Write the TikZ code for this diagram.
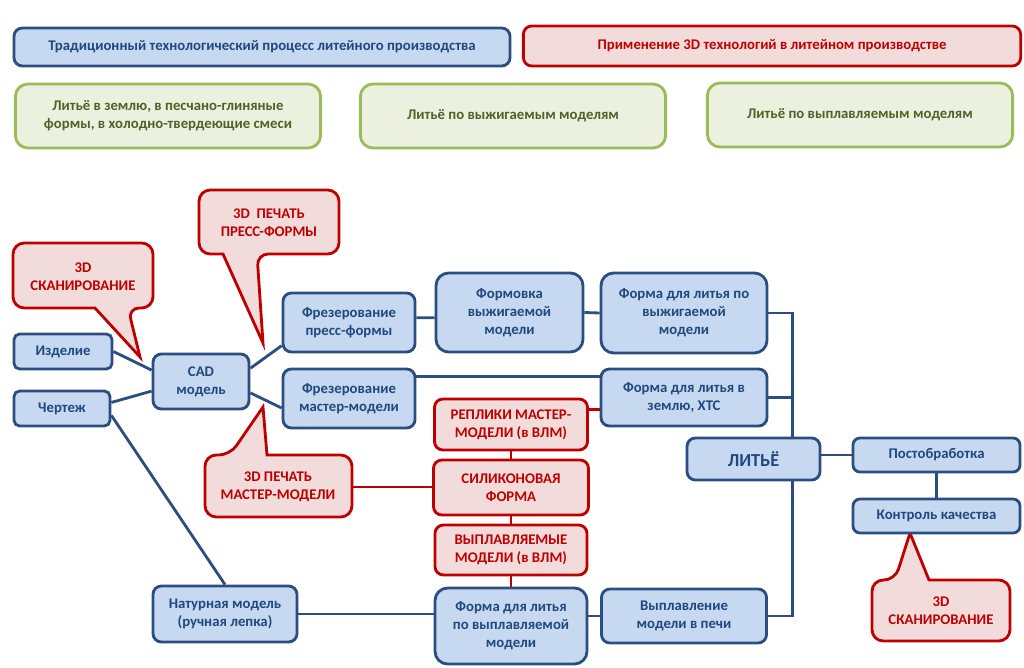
\documentclass[tikz,border=0pt]{standalone}
\usepackage{fontspec}
\setmainfont{Carlito}

\definecolor{bluefill}{HTML}{C6D9F1}
\definecolor{blueline}{HTML}{2C4D7F}
\definecolor{bluetext}{HTML}{1F497D}
\definecolor{redfill}{HTML}{F2DCDB}
\definecolor{redline}{HTML}{C00000}
\definecolor{greenfill}{HTML}{EBF1DE}
\definecolor{greenline}{HTML}{9BBB59}
\definecolor{greentext}{HTML}{4F6228}

\tikzset{
  blk/.style={draw=blueline, fill=bluefill, text=bluetext, line width=2pt,
    rounded corners=6pt, align=center, inner sep=2pt,
    font=\bfseries\fontsize{10.5}{12.8}\selectfont},
  rblk/.style={blk, draw=redline, fill=redfill, text=redline},
  gblk/.style={blk, draw=greenline, fill=greenfill, text=greentext, rounded corners=9pt},
  callout/.style={draw=redline, fill=redfill, line width=2pt, rounded corners=8pt},
  cln/.style={text=redline, align=center, inner sep=0pt,
    font=\bfseries\fontsize{10.5}{12.8}\selectfont},
  link/.style={draw=blueline, line width=2pt},
  rlink/.style={draw=redline, line width=2pt},
}

\begin{document}
\begin{tikzpicture}[x=0.025cm,y=-0.025cm]
	\useasboundingbox (0,0) rectangle (1024,668);

	% legend
	\node[blk, minimum width=12.4cm, minimum height=0.95cm] (trad) at (262,47)
	{Традиционный технологический процесс литейного производства};
	\node[rblk, minimum width=12.43cm, minimum height=1cm] (tech3d) at (772,46)
	{Применение 3D технологий в литейном производстве};
	\node[gblk, minimum width=7.63cm, minimum height=1.6cm] (gsand) at (168,116)
	{Литьё в землю, в песчано-глиняные\\формы, в холодно-твердеющие смеси};
	\node[gblk, minimum width=7.63cm, minimum height=1.6cm] (gburn) at (513,116)
	{Литьё по выжигаемым моделям};
	\node[gblk, minimum width=7.63cm, minimum height=1.6cm] (gmelt) at (860,115)
	{Литьё по выплавляемым моделям};

	% callouts
	\coordinate (tipscanA) at (140,357);
	\filldraw[callout] (13,275) -- (13,243) -- (153,243) -- (153,308) -- (128,308)
	[sharp corners] -- (tipscanA) -- (95,308) [rounded corners=8pt] -- (13,308) -- cycle;
	\node[cln, minimum width=3.5cm, minimum height=1.625cm] (scanA) at (83,277)
	{3D\\СКАНИРОВАНИЕ};

	\coordinate (tippress) at (263,343);
	\filldraw[callout] (199,222) -- (199,190) -- (339,190) -- (339,254) -- (257,254)
	[sharp corners] -- (tippress) -- (223,254) [rounded corners=8pt] -- (199,254) -- cycle;
	\node[cln, minimum width=3.5cm, minimum height=1.6cm] (ppress) at (269,223)
	{3D~ ПЕЧАТЬ\\ПРЕСС-ФОРМЫ};

	\coordinate (tipmaster) at (263,407);
	\filldraw[callout] (205,486) -- (205,455) -- (230,455)
	[sharp corners] -- (tipmaster) -- (267,455) [rounded corners=8pt] -- (352,455)
	-- (352,517) -- (205,517) -- cycle;
	\node[cln, minimum width=3.675cm, minimum height=1.55cm] (pmm) at (278,487)
	{3D ПЕЧАТЬ\\МАСТЕР-МОДЕЛИ};

	\coordinate (tipscanB) at (910,533);
	\filldraw[callout] (872,610) -- (872,580) -- (895,580)
	[sharp corners] -- (tipscanB) -- (929,580) [rounded corners=8pt] -- (1010,580)
	-- (1010,641) -- (872,641) -- cycle;
	\node[cln, minimum width=3.45cm, minimum height=1.525cm] (scanB) at (941,611)
	{3D\\СКАНИРОВАНИЕ};

	% process
	\node[blk, rounded corners=4pt, minimum width=2.45cm, minimum height=0.875cm] (izd) at (63,351.5) {Изделие};
	\node[blk, rounded corners=4pt, minimum width=2.4cm, minimum height=0.875cm] (chert) at (62,408.5) {Чертеж};
	\node[blk, minimum width=2.4cm, minimum height=1.375cm] (cad) at (201,381.5) {CAD\\модель};
	\node[blk, minimum width=3.3cm, minimum height=1.475cm] (fp) at (349,322.5) {Фрезерование\\пресс-формы};
	\node[blk, minimum width=3.3cm, minimum height=1.475cm] (fm) at (349,398.5) {Фрезерование\\мастер-модели};
	\node[blk, rounded corners=9pt, minimum width=3.675cm, minimum height=1.975cm] (form) at (509.5,312.5) {Формовка\\выжигаемой\\модели};
	\node[blk, rounded corners=9pt, minimum width=4.15cm, minimum height=2cm] (fvyzh) at (684,313) {Форма для литья по\\выжигаемой\\модели};
	\node[blk, minimum width=4.15cm, minimum height=1.425cm] (fzem) at (684,397.5) {Форма для литья в\\землю, ХТС};
	\node[blk, minimum width=3.325cm, minimum height=1.05cm, font=\bfseries\fontsize{13}{15}\selectfont] (lit) at (753.5,459) {ЛИТЬЁ};
	\node[blk, rounded corners=5pt, minimum width=4.175cm, minimum height=0.85cm] (post) at (936.5,455) {Постобработка};
	\node[blk, rounded corners=5pt, minimum width=4.175cm, minimum height=0.85cm] (kontr) at (936.5,516) {Контроль качества};
	\node[blk, minimum width=3.6cm, minimum height=1.4cm] (nat) at (225,614) {Натурная модель\\(ручная лепка)};
	\node[blk, rounded corners=9pt, minimum width=3.8cm, minimum height=1.9cm] (fvypl) at (511,626) {Форма для литья\\по выплавляемой\\модели};
	\node[blk, minimum width=4.125cm, minimum height=1.35cm] (vypl) at (684,616) {Выплавление\\модели в печи};
	\node[rblk, minimum width=3.825cm, minimum height=1.275cm] (rep) at (511,424.5) {РЕПЛИКИ МАСТЕР-\\МОДЕЛИ (в ВЛМ)};
	\node[rblk, minimum width=3.875cm, minimum height=1.375cm] (sil) at (511,487.5) {СИЛИКОНОВАЯ\\ФОРМА};
	\node[rblk, minimum width=3.8cm, minimum height=1.25cm] (vyplm) at (511,550) {ВЫПЛАВЛЯЕМЫЕ\\МОДЕЛИ (в ВЛМ)};

	% connectors
	\draw[link] (izd.east) -- (cad.167);
	\draw[link] (chert.7) -- (cad.191);
	\draw[link] (chert.-8) -- (nat.north);
	\draw[link] (cad.15) -- (fp.199);
	\draw[link] (cad.347) -- (fm.188);
	\draw[link] (fp.4) -- (form.184);
	\draw[link] (form.east) -- (fvyzh.west);
	\draw[link] (fvyzh.east) -| (lit.30);
	\draw[link] (fzem.east) -- (fzem.east -| lit.30);
	\draw[link] (fm.18) -- (fm.18 -| fzem.west);
	\draw[link] (post.west) -- (post.west -| lit.east);
	\draw[link] (post.south) -- (kontr.north);
	\draw[link] (lit.-30) |- (vypl.east);
	\draw[link] (vypl.west) -- (vypl.west -| fvypl.east);
	\draw[link] (nat.east) -- (nat.east -| fvypl.west);
	\draw[rlink] (fzem.188) -- (fzem.188 -| rep.east);
	\draw[rlink] (rep.south) -- (sil.north);
	\draw[rlink] (sil.south) -- (vyplm.north);
	\draw[rlink] (vyplm.south) -- (fvypl.north);
	\draw[rlink] (pmm.east) -- (pmm.east -| sil.west);
\end{tikzpicture}
\end{document}
